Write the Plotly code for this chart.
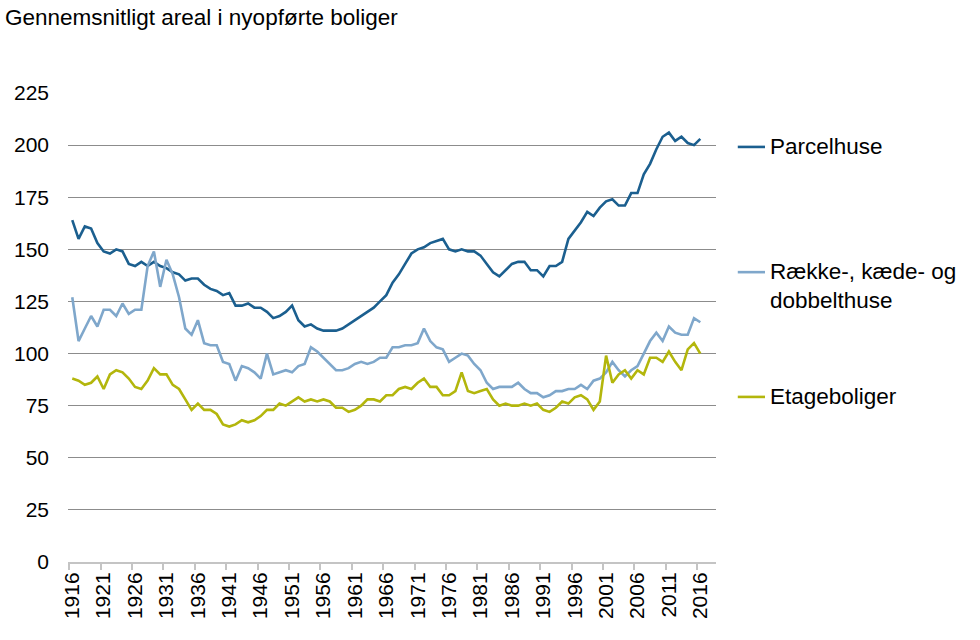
import plotly.graph_objects as go

years = list(range(1916, 2017))

parcelhuse = [164, 155, 161, 160, 153, 149, 148, 150, 149, 143,
              142, 144, 142, 144, 142, 141, 139, 138, 135, 136,
              136, 133, 131, 130, 128, 129, 123, 123, 124, 122,
              122, 120, 117, 118, 120, 123, 116, 113, 114, 112,
              111, 111, 111, 112, 114, 116, 118, 120, 122, 125,
              128, 134, 138, 143, 148, 150, 151, 153, 154, 155,
              150, 149, 150, 149, 149, 147, 143, 139, 137, 140,
              143, 144, 144, 140, 140, 137, 142, 142, 144, 155,
              159, 163, 168, 166, 170, 173, 174, 171, 171, 177,
              177, 186, 191, 198, 204, 206, 202, 204, 201, 200,
              203]

raekke = [127, 106, 112, 118, 113, 121, 121, 118, 124, 119,
          121, 121, 142, 149, 132, 145, 138, 127, 112, 109,
          116, 105, 104, 104, 96, 95, 87, 94, 93, 91,
          88, 100, 90, 91, 92, 91, 94, 95, 103, 101,
          98, 95, 92, 92, 93, 95, 96, 95, 96, 98,
          98, 103, 103, 104, 104, 105, 112, 106, 103, 102,
          96, 98, 100, 99, 95, 92, 86, 83, 84, 84,
          84, 86, 83, 81, 81, 79, 80, 82, 82, 83,
          83, 85, 83, 87, 88, 91, 96, 92, 89, 92,
          94, 100, 106, 110, 106, 113, 110, 109, 109, 117,
          115]

etage = [88, 87, 85, 86, 89, 83, 90, 92, 91, 88,
         84, 83, 87, 93, 90, 90, 85, 83, 78, 73,
         76, 73, 73, 71, 66, 65, 66, 68, 67, 68,
         70, 73, 73, 76, 75, 77, 79, 77, 78, 77,
         78, 77, 74, 74, 72, 73, 75, 78, 78, 77,
         80, 80, 83, 84, 83, 86, 88, 84, 84, 80,
         80, 82, 91, 82, 81, 82, 83, 78, 75, 76,
         75, 75, 76, 75, 76, 73, 72, 74, 77, 76,
         79, 80, 78, 73, 77, 99, 86, 90, 92, 88,
         92, 90, 98, 98, 96, 101, 96, 92, 102, 105,
         100]

series_names = ["Parcelhuse", "Række-, kæde- og<br>dobbelthuse", "Etageboliger"]
series_values = [parcelhuse, raekke, etage]
series_colors = ["#1b5f8f", "#7fa7cb", "#b3b60c"]

y_ticks = list(range(0, 226, 25))
x_ticks = years[::5]
x_tick_text = [str(y) for y in x_ticks]

FONT = "Liberation Sans, Arial, sans-serif"
FS_TICK = 21
FS_TEXT = 22.5

fig = go.Figure()
for name, vals, color in zip(series_names, series_values, series_colors):
    fig.add_trace(go.Scatter(x=years, y=vals, mode="lines", name=name,
                             line=dict(color=color, width=2.6),
                             showlegend=False, hoverinfo="x+y"))

# legend built from annotations + short line samples
legend_y = [0.885, 0.618, 0.352]
for name, color, ly in zip(series_names, series_colors, legend_y):
    two = "<br>" in name
    fig.add_shape(type="line", xref="paper", yref="paper",
                  x0=1.0336, x1=1.0756, y0=ly, y1=ly,
                  line=dict(color=color, width=2.6))
    fig.add_annotation(text=name, xref="paper", yref="paper",
                       x=1.080, y=ly, xanchor="left",
                       yanchor="top" if two else "middle",
                       yshift=15 if two else 0,
                       align="left", showarrow=False,
                       font=dict(family=FONT, size=FS_TEXT, color="#000000"))

fig.update_layout(
    width=980, height=640,
    margin=dict(l=68, r=264, t=93, b=78, autoexpand=False),
    paper_bgcolor="white", plot_bgcolor="white",
    font=dict(family=FONT, size=FS_TICK, color="#000000"),
    title=dict(text="Gennemsnitligt areal i nyopførte boliger",
               x=5 / 980, xanchor="left", xref="container",
               y=1 - 17 / 640, yanchor="middle", yref="container",
               pad=dict(t=0, b=0, l=0, r=0),
               font=dict(family=FONT, size=FS_TEXT, color="#000000")),
    xaxis=dict(range=[1915.32, 2018.5], tickmode="array",
               tickvals=x_ticks, ticktext=x_tick_text, tickangle=-90,
               showgrid=False, zeroline=False, showline=True,
               linecolor="#c4c4c4", linewidth=2, ticks="",
               automargin=False,
               minor=dict(tickmode="array",
                          tickvals=[v - 0.5 for v in x_ticks],
                          ticks="outside", ticklen=6, tickwidth=1.5,
                          tickcolor="#c4c4c4", showgrid=False),
               tickfont=dict(family=FONT, size=FS_TICK, color="#000000"),
               fixedrange=True),
    yaxis=dict(range=[0, 225], tickmode="array", tickvals=y_ticks,
               showgrid=True, gridcolor="#8c8c8c", gridwidth=1,
               zeroline=False, showline=False, ticks="",
               automargin=False, ticklabelstandoff=18,
               tickfont=dict(family=FONT, size=FS_TICK, color="#000000"),
               fixedrange=True),
)

fig.write_html("out.html",
               config={"displayModeBar": False, "staticPlot": False},
               post_script="document.body.style.margin='0px';"
                           "document.body.style.padding='0px';")
